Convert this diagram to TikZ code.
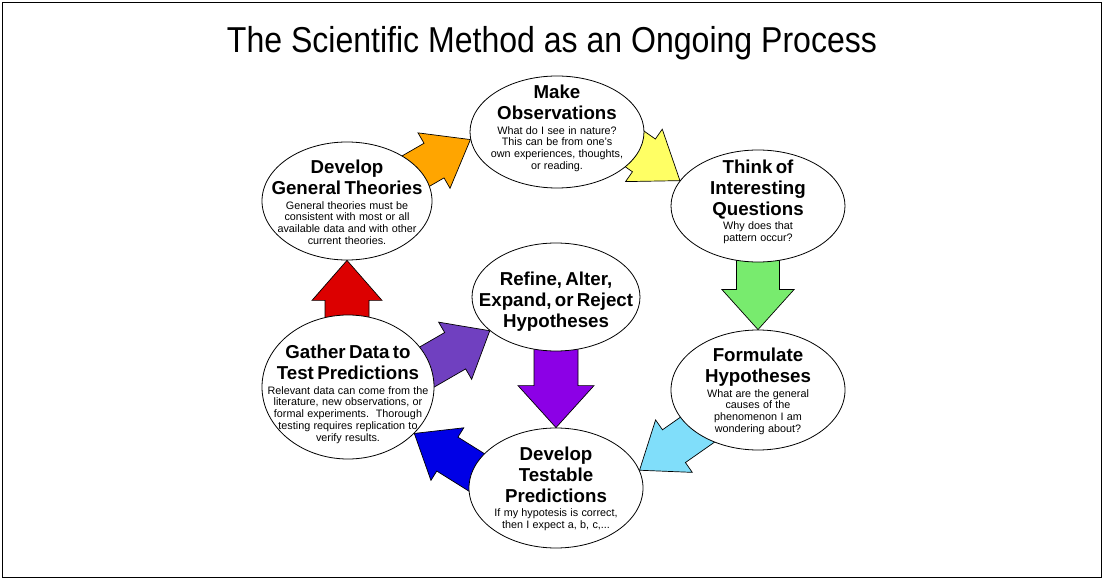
\documentclass[tikz,border=0pt]{standalone}
\usepackage{fontspec}
\setmainfont{Liberation Sans}
\usetikzlibrary{shapes.geometric}
\pgfdeclarelayer{bg}
\pgfsetlayers{bg,main}
\setlength\parindent{0pt}
\definecolor{corange}{RGB}{255,165,0}
\definecolor{cyellow}{RGB}{255,255,100}
\definecolor{cgreen}{RGB}{120,235,110}
\definecolor{clblue}{RGB}{128,222,250}
\definecolor{cblue}{RGB}{0,0,230}
\definecolor{cred}{RGB}{220,0,0}
\definecolor{cpurple}{RGB}{112,64,192}
\definecolor{cviolet}{RGB}{140,0,230}
\newcommand\hd{\fontsize{18.7}{20.8}\selectfont\bfseries}
\newcommand\ds{\fontsize{10.8}{11.8}\selectfont}
% #1 name, #2 colour, #3 tip, #4 angle, #5 length, #6 head length, #7 head half width, #8 shaft half width
\newcommand\blockarr[8]{%
  \draw[arrowbox, fill=#2, shift={(#3)}, rotate=#4] (0,0) coordinate (#1)
    -- (-#6,#7) -- (-#6,#8) -- (-#5,#8) -- (-#5,-#8) -- (-#6,-#8) -- (-#6,-#7) -- cycle;}
\begin{document}
\begin{tikzpicture}[x=1pt,y=-1pt,
  bubble/.style={ellipse, draw=black, fill=white, line width=0.8pt, inner sep=0pt},
  arrowbox/.style={draw=black, line width=0.7pt, line join=miter},
  txt/.style={align=center, text width=190pt, inner sep=0pt, anchor=north},
]
\useasboundingbox (0,0) rectangle (1104,580);
\begin{pgfonlayer}{bg}
\fill[white] (0,0) rectangle (1104,580);
\end{pgfonlayer}
\draw[line width=1pt] (2.5,2.5) rectangle (1101.5,577.5);
\node[anchor=base, font=\fontsize{36}{40}\selectfont] (title) at (552,53)
  {\scalebox{0.89}[1]{The Scientific Method as an Ongoing Process}};

\node[bubble, minimum width=174pt, minimum height=112pt] (obs) at (557,132) {};
\node[bubble, minimum width=170pt, minimum height=118pt] (theories) at (347,201) {};
\node[bubble, minimum width=174pt, minimum height=112pt] (think) at (758,206) {};
\node[bubble, minimum width=174pt, minimum height=120pt] (formulate) at (758,390) {};
\node[bubble, minimum width=174pt, minimum height=120pt] (testable) at (556,488) {};
\node[bubble, minimum width=172pt, minimum height=144pt] (gather) at (348,387) {};
\node[bubble, minimum width=168pt, minimum height=108pt] (refine) at (556,297) {};

\node[txt] (tobs) at (557,85) {{\hd Make\\Observations\par}\vspace{2.7pt}{\ds What do I see in nature?\\This can be from one's\\own experiences, thoughts,\\or reading.\par}};
\node[txt] (ttheories) at (347,160) {{\hd Develop\\General Theories\par}\vspace{2.7pt}{\ds General theories must be\\consistent with most or all\\available data and with other\\current theories.\par}};
\node[txt] (tthink) at (758,160) {{\hd Think of\\Interesting\\Questions\par}\vspace{2.7pt}{\ds Why does that\\pattern occur?\par}};
\node[txt] (tformulate) at (758,348) {{\hd Formulate\\Hypotheses\par}\vspace{2.7pt}{\ds What are the general\\causes of the\\phenomenon I am\\wondering about?\par}};
\node[txt] (ttestable) at (556,447) {{\hd Develop\\Testable\\Predictions\par}\vspace{2.7pt}{\ds If my hypotesis is correct,\\then I expect a, b, c,...\par}};
\node[txt] (tgather) at (348,345) {{\hd Gather Data to\\Test Predictions\par}\vspace{2.7pt}{\ds Relevant data can come from the\\literature, new observations, or\\formal experiments.\ \ Thorough\\testing requires replication to\\verify results.\par}};
\node[txt] (trefine) at (556,272) {{\hd Refine, Alter,\\Expand, or Reject\\Hypotheses\par}};

\begin{pgfonlayer}{bg}
\blockarr{aOrange}{corange}{obs.185}{30}{90}{42}{32}{20}
\blockarr{aYellow}{cyellow}{think.162}{-35}{90}{44}{32}{20}
\blockarr{aGreen}{cgreen}{formulate.90}{-90}{75}{40}{36}{21.5}
\blockarr{aLblue}{clblue}{testable.12}{215}{90}{42}{32}{20}
\blockarr{aBlue}{cblue}{gather.-35}{148}{90}{39}{31}{20}
\blockarr{aRed}{cred}{theories.-90}{90}{70}{40}{35}{22}
\blockarr{aPurple}{cpurple}{refine.207}{30}{85}{40}{33}{21}
\blockarr{aViolet}{cviolet}{testable.90}{-90}{90}{42}{38}{22}
\end{pgfonlayer}
\end{tikzpicture}
\end{document}
